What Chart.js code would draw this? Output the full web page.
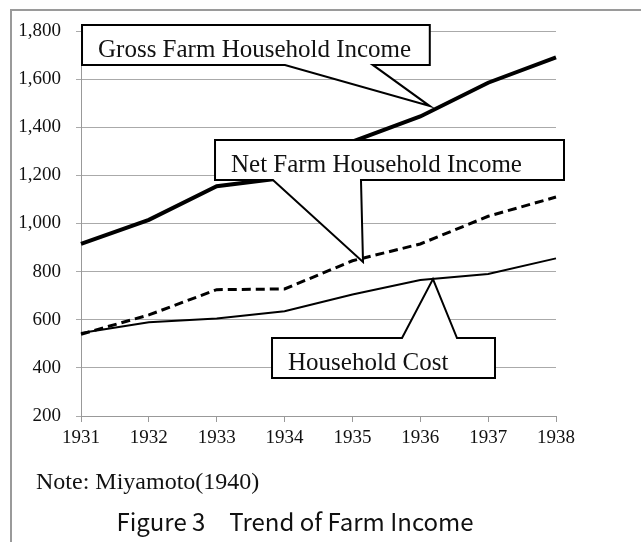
<!DOCTYPE html>
<html>
<head>
<meta charset="utf-8">
<script src="https://cdn.jsdelivr.net/npm/chart.js@4"></script>
<style>
  body { margin: 0; background: #fff; }
  #wrap { width: 641px; height: 542px; position: relative; }
</style>
</head>
<body>
<div id="wrap"><canvas id="farmChart"></canvas></div>
<script>
// years and series
const years = ['1931', '1932', '1933', '1934', '1935', '1936', '1937', '1938'];
const grossIncome = [915, 1015, 1155, 1190, 1340, 1445, 1585, 1690];
const netIncome = [540, 620, 725, 728, 845, 915, 1030, 1110];
const householdCost = [545, 590, 605, 635, 705, 765, 790, 855];

const noteText = 'Note: Miyamoto(1940)';
const titleText = 'Figure 3\u3000Trend of Farm Income';

// callout boxes, in axis units (x = year index, y = value)
const callouts = [
  { text: 'Gross Farm Household Income', left: 0.015, right: 5.14, top: 1825, bottom: 1659,
    side: 'bottom', base: [3.006, 4.30], tip: { x: 5.14, y: 1488 } },
  { text: 'Net Farm Household Income', left: 1.975, right: 7.118, top: 1347, bottom: 1181,
    side: 'bottom', base: [2.829, 4.126], tip: { x: 4.156, y: 840 } },
  { text: 'Household Cost', left: 2.815, right: 6.101, top: 524, bottom: 358,
    side: 'top', base: [4.731, 5.541], tip: { x: 5.187, y: 769 } }
];

const serif = '"Liberation Serif", "Times New Roman", serif';

const extras = {
  id: 'extras',
  beforeDraw(chart) {
    const c = chart.ctx;
    c.save();
    c.fillStyle = '#fff';
    c.fillRect(0, 0, chart.width, chart.height);
    // outer frame
    c.strokeStyle = '#9a9a9a';
    c.lineWidth = 2;
    c.beginPath();
    c.moveTo(11, chart.height);
    c.lineTo(11, 10);
    c.lineTo(chart.width, 10);
    c.stroke();
    c.restore();
  },
  afterDatasetsDraw(chart) {
    const c = chart.ctx;
    const xs = chart.scales.x, ys = chart.scales.y;
    c.save();
    callouts.forEach(co => {
      const l = xs.getPixelForValue(co.left), r = xs.getPixelForValue(co.right);
      const t = ys.getPixelForValue(co.top), b = ys.getPixelForValue(co.bottom);
      const b1 = xs.getPixelForValue(co.base[0]), b2 = xs.getPixelForValue(co.base[1]);
      const tx = xs.getPixelForValue(co.tip.x), ty = ys.getPixelForValue(co.tip.y);
      c.beginPath();
      if (co.side === 'bottom') {
        c.moveTo(l, t); c.lineTo(r, t); c.lineTo(r, b);
        c.lineTo(b2, b); c.lineTo(tx, ty); c.lineTo(b1, b);
        c.lineTo(l, b); c.closePath();
      } else {
        c.moveTo(l, t); c.lineTo(b1, t); c.lineTo(tx, ty); c.lineTo(b2, t);
        c.lineTo(r, t); c.lineTo(r, b); c.lineTo(l, b); c.closePath();
      }
      c.fillStyle = '#fff';
      c.fill();
      c.strokeStyle = '#000';
      c.lineWidth = 2;
      c.lineJoin = 'miter';
      c.stroke();
      c.fillStyle = '#111';
      c.font = '25px ' + serif;
      c.textBaseline = 'alphabetic';
      c.textAlign = 'left';
      c.fillText(co.text, l + 16, b - 8);
    });
    // note and figure title
    c.fillStyle = '#111';
    c.font = '24px ' + serif;
    c.fillText(noteText, 36, 489);
    c.font = '24px "Noto Sans CJK JP", "Noto Sans", sans-serif';
    c.textAlign = 'center';
    c.fillText(titleText, 295, 531);
    c.restore();
  }
};

new Chart('farmChart', {
  type: 'line',
  data: {
    labels: years,
    datasets: [
      { label: 'Gross Farm Household Income', data: grossIncome, borderColor: '#000',
        borderWidth: 4, pointRadius: 0, tension: 0 },
      { label: 'Net Farm Household Income', data: netIncome, borderColor: '#000',
        borderWidth: 3, borderDash: [9, 5], pointRadius: 0, tension: 0 },
      { label: 'Household Cost', data: householdCost, borderColor: '#000',
        borderWidth: 2, pointRadius: 0, tension: 0 }
    ]
  },
  options: {
    responsive: true,
    maintainAspectRatio: false,
    animation: false,
    layout: { padding: { left: 0, top: 31, right: 85, bottom: 96 } },
    plugins: { legend: { display: false }, tooltip: { enabled: false }, title: { display: false } },
    scales: {
      x: {
        offset: false,
        grid: { drawOnChartArea: false, color: '#999', tickLength: 6 },
        border: { color: '#999' },
        ticks: { color: '#111', padding: 5, maxRotation: 0, autoSkip: false,
          font: { family: serif, size: 19 } },
        afterFit(scale) { scale.height = 30; }
      },
      y: {
        min: 200, max: 1800,
        ticks: { stepSize: 200, color: '#111', padding: 15,
          font: { family: serif, size: 19 } },
        grid: { color: '#aaa', tickLength: 5 },
        border: { color: '#999' },
        afterFit(scale) { scale.width = 81; }
      }
    }
  },
  plugins: [extras]
});
</script>
</body>
</html>
